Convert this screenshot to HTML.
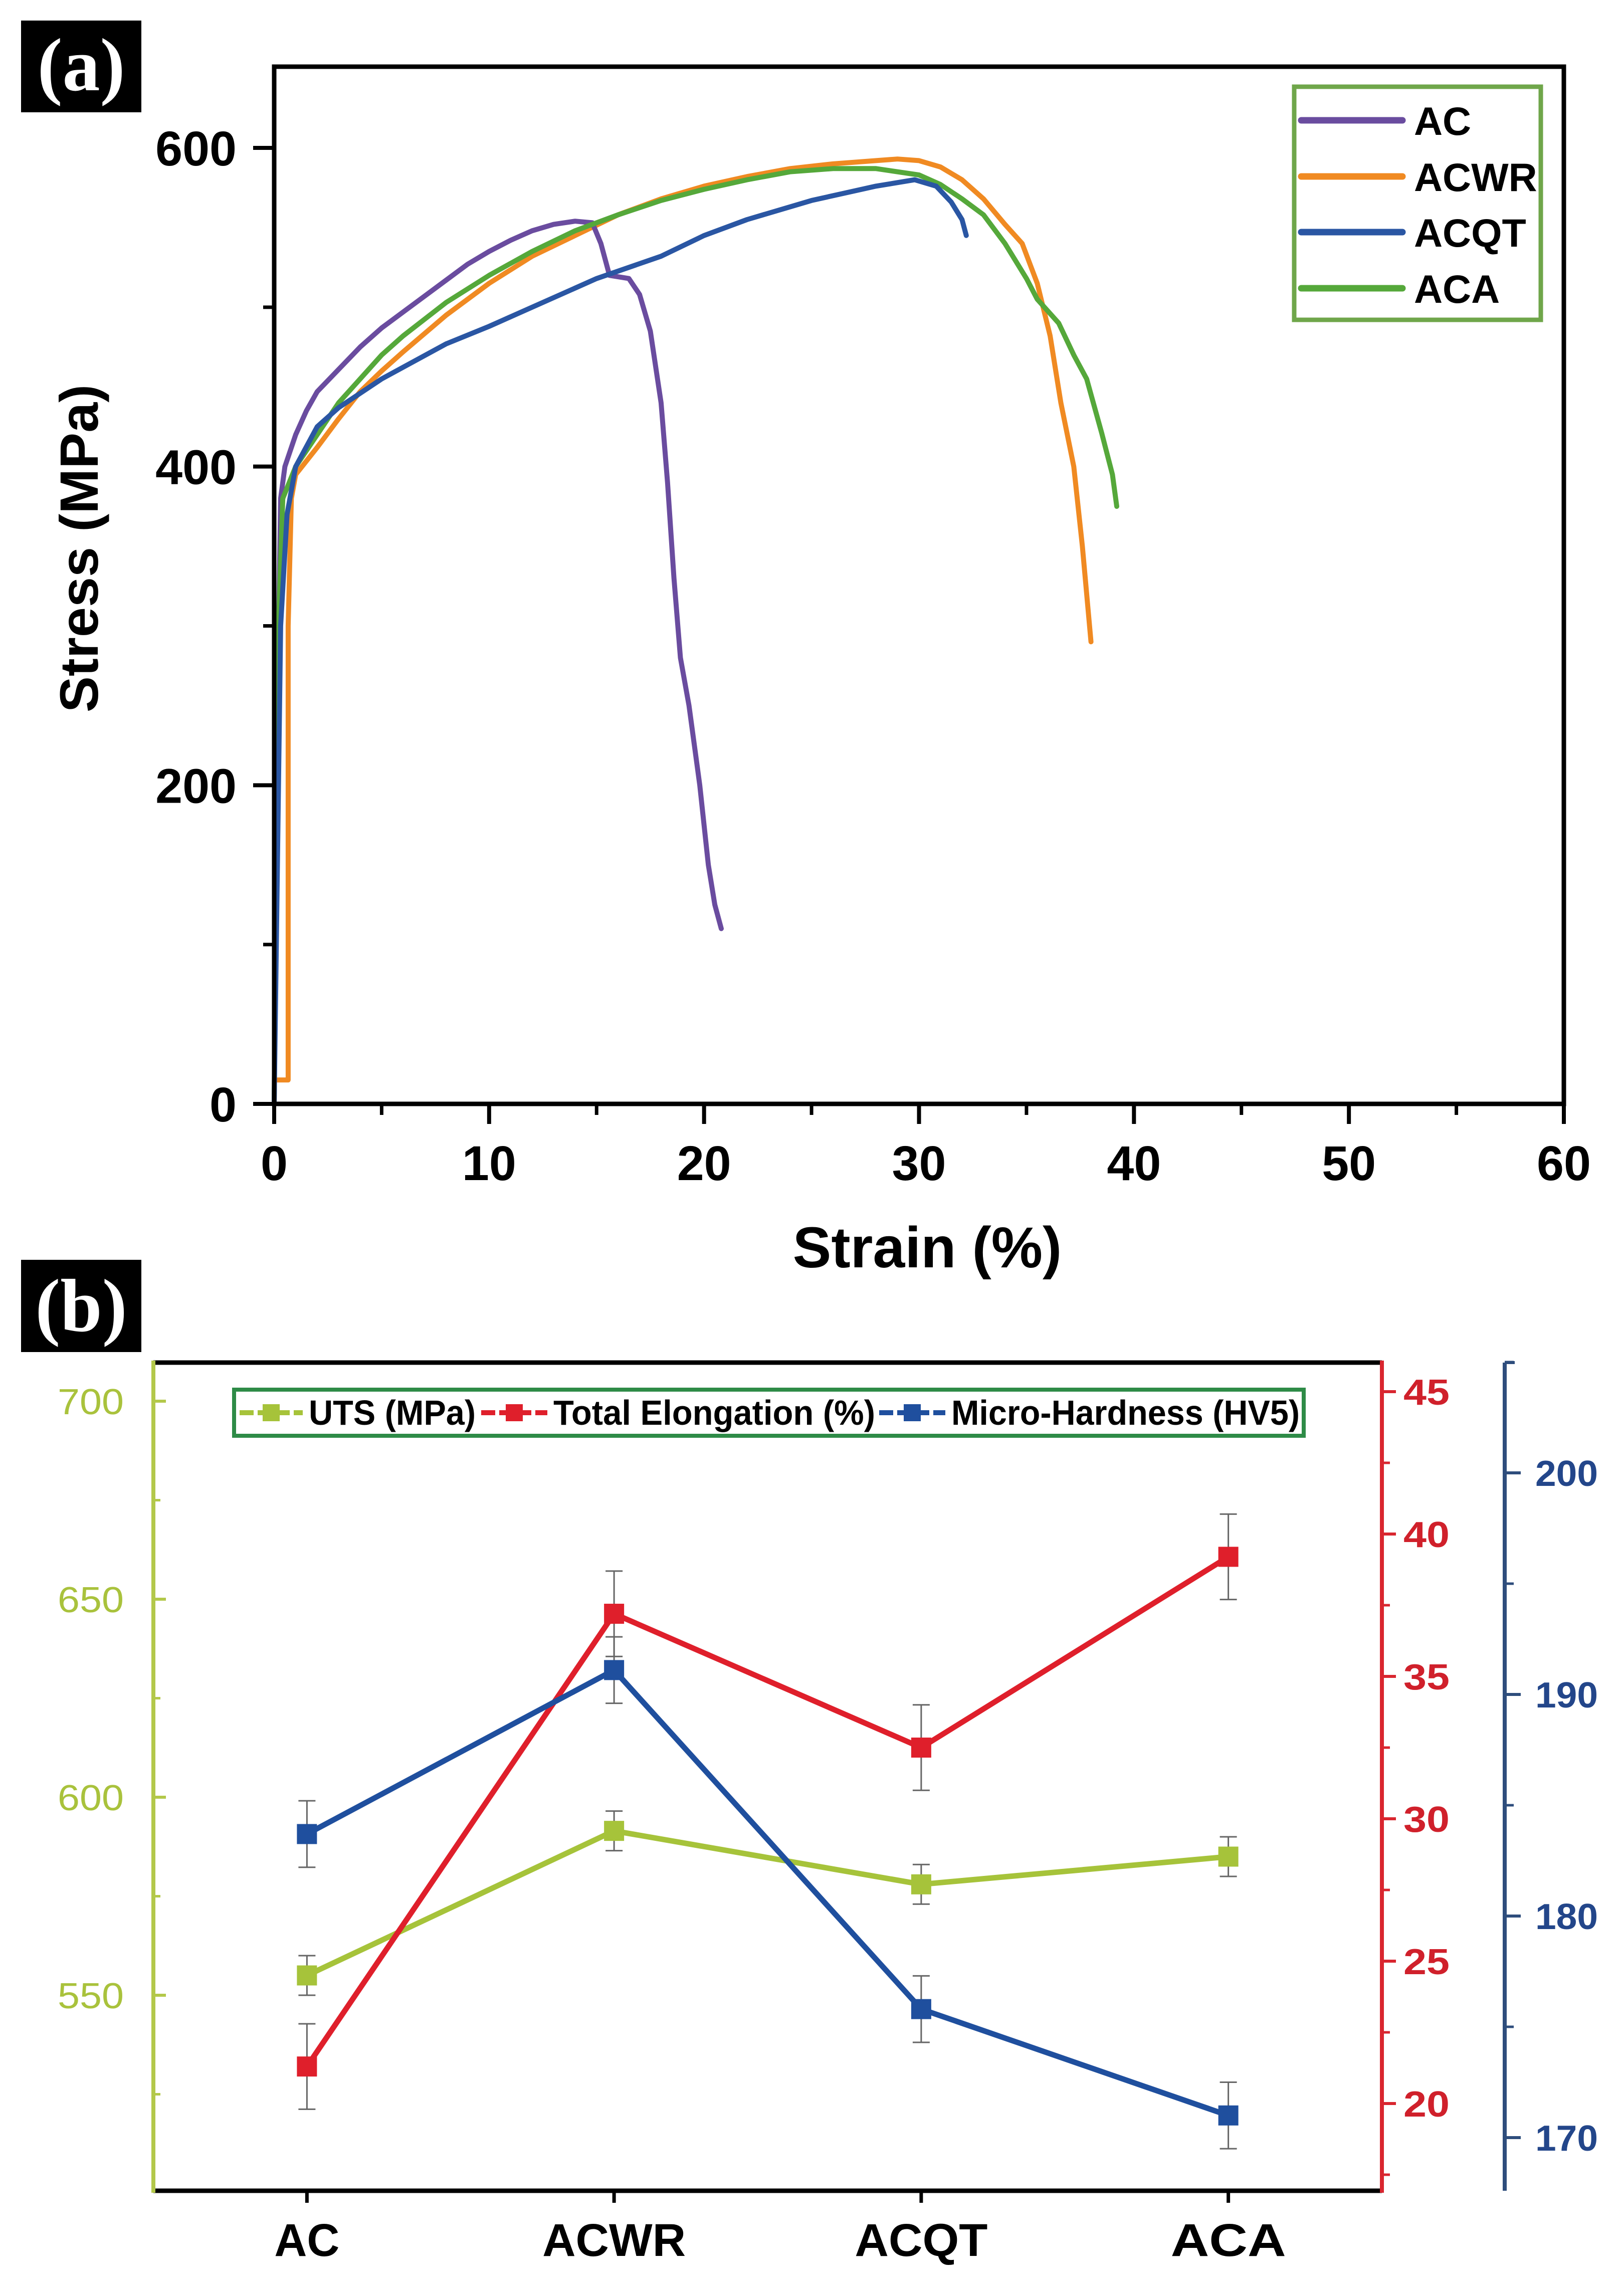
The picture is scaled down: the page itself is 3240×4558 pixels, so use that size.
<!DOCTYPE html>
<html><head><meta charset="utf-8"><style>
html,body{margin:0;padding:0;background:#fff;}
svg{display:block;}
text{font-family:"Liberation Sans",Arial,sans-serif;}
</style></head><body>
<svg id="fig" width="3240" height="4558" viewBox="0 0 3240 4558" xmlns="http://www.w3.org/2000/svg">
<rect width="3240" height="4558" fill="#fff"/>
<g id="pa"></g>
<g id="pb"></g>
</svg>
<script>
// ---------- Panel (a) data ----------
const seriesNames = ["AC","ACWR","ACQT","ACA"];
const acStrain   = [0,0.15,0.3,0.5,1,1.5,2,3,4,5,6,7,8,9,10,11,12,13,14,14.8,15.2,15.6,16.5,17,17.5,18,18.3,18.6,18.9,19.3,19.8,20.2,20.5,20.8];
const acStress   = [0,250,380,400,420,435,447,461,475,487,497,507,517,527,535,542,548,552,554,553,540,520,518,508,485,440,390,330,280,250,200,150,125,110];
const acwrStrain = [0.1,0.65,0.65,0.8,1,2,3,4,5,6,8,10,12,14,16,18,20,22,24,26,28,29,30,31,32,33,34,34.8,35.5,36.1,36.6,37.2,37.6,38];
const acwrStress = [15,15,300,380,395,412,430,447,460,472,495,515,532,545,558,568,576,582,587,590,592,593,592,588,580,568,552,540,515,482,440,400,350,290];
const acqtStrain = [0,0.3,0.6,1,2,3,5,8,10,12,15,18,20,22,25,28,29.8,30.8,31.5,32,32.2];
const acqtStress = [0,300,370,400,425,437,455,477,488,500,518,532,545,555,567,576,580,576,566,555,545];
const acaStrain  = [0,0.2,0.4,1,2,3,4,5,6,8,10,12,14,16,18,20,22,24,26,28,30,31,32,33,34,35,35.5,36.5,37.2,37.8,38.5,39,39.2];
const acaStress  = [0,300,380,400,420,440,455,470,482,503,520,535,548,558,567,574,580,585,587,587,583,577,568,558,540,518,505,490,470,455,421,395,375];
const xTicksA = [0,10,20,30,40,50,60];
const yTicksA = [0,200,400,600];

// ---------- Panel (b) data ----------
const categories = ["AC","ACWR","ACQT","ACA"];
const utsValues  = [555,591.5,578,585];
const utsErr     = [5,5,5,5];
const elongValues= [21.3,37.2,32.5,39.2];
const elongErr   = [1.5,1.5,1.5,1.5];
const hvValues   = [183.7,191.1,175.8,171.0];
const hvErr      = [1.5,1.5,1.5,1.5];
const utsTicks   = [550,600,650,700];
const elongTicks = [20,25,30,35,40,45];
const hvTicks    = [170,180,190,200];

const NS="http://www.w3.org/2000/svg";
function mk(parent,tag,attrs,txt){const e=document.createElementNS(NS,tag);for(const k in attrs)e.setAttribute(k,attrs[k]);if(txt!==undefined)e.textContent=txt;parent.appendChild(e);return e;}

// ================= Panel (a) =================
const pa=document.getElementById('pa');
const AX0=547,AX1=3120,AY0=2202,AY1=133;
const sxA=v=>AX0+(v/60)*(AX1-AX0);
const syA=v=>AY0-v*(AY0-295)/600;
let lb=mk(pa,'rect',{x:42,y:41,width:240,height:183,fill:'#000'});

let lt=mk(pa,'text',{x:162,y:180,'text-anchor':'middle',fill:'#fff','font-size':150,'font-weight':'bold',style:'font-family:"Liberation Serif",serif'},'(a)');

const colorsA=["#6a4c9f","#f08a22","#2a56a3","#55a83a"];
const xsA=[acStrain,acwrStrain,acqtStrain,acaStrain], ysA=[acStress,acwrStress,acqtStress,acaStress];
[1,0,3,2].forEach(s=>{
  const pts=xsA[s].map((x,i)=>sxA(x).toFixed(1)+','+syA(ysA[s][i]).toFixed(1)).join(' ');
  const p=mk(pa,'polyline',{points:pts,fill:'none',stroke:colorsA[s],'stroke-width':10,'stroke-linejoin':'round','stroke-linecap':'round'});
  
  
});
let fr=mk(pa,'rect',{x:AX0,y:AY1,width:AX1-AX0,height:AY0-AY1,fill:'none',stroke:'#000','stroke-width':9});

xTicksA.forEach(v=>{
  const t=mk(pa,'line',{x1:sxA(v),x2:sxA(v),y1:AY0,y2:AY0+40,stroke:'#000','stroke-width':8});
  
  const l=mk(pa,'text',{x:sxA(v),y:2354,'text-anchor':'middle','font-size':97,'font-weight':'bold'},String(v));
  
  if(v<60){const m=mk(pa,'line',{x1:sxA(v+5),x2:sxA(v+5),y1:AY0,y2:AY0+22,stroke:'#000','stroke-width':7});
    }
});
yTicksA.forEach(v=>{
  const t=mk(pa,'line',{x1:AX0-42,x2:AX0,y1:syA(v),y2:syA(v),stroke:'#000','stroke-width':8});
  
  const l=mk(pa,'text',{x:472,y:syA(v)+35,'text-anchor':'end','font-size':97,'font-weight':'bold'},String(v));
  
  const m=mk(pa,'line',{x1:AX0-22,x2:AX0,y1:syA(v+100),y2:syA(v+100),stroke:'#000','stroke-width':7});
  
});
let yt=mk(pa,'text',{x:0,y:0,transform:'translate(195,1094) rotate(-90)','text-anchor':'middle','font-size':108,'font-weight':'bold'},'Stress (MPa)');

let xt=mk(pa,'text',{x:1850,y:2528,'text-anchor':'middle','font-size':115,'font-weight':'bold'},'Strain (%)');

let lgA=mk(pa,'g',{});

mk(lgA,'rect',{x:2582,y:173,width:492,height:465,fill:'#fff',stroke:'#6fa64a','stroke-width':9});
const legY=[240,352,463,575];
seriesNames.forEach((n,i)=>{
  const g=mk(lgA,'g',{});
  
  mk(g,'line',{x1:2596,x2:2798,y1:legY[i],y2:legY[i],stroke:colorsA[i],'stroke-width':13,'stroke-linecap':'round'});
  mk(g,'text',{x:2821,y:legY[i]+29,'font-size':79,'font-weight':'bold'},n);
});

// ================= Panel (b) =================
const pb=document.getElementById('pb');
const BX0=306,BX1=2757,BY0=4370,BY1=2718,BLUEX=3002;
const sxB=i=>BX0+(i+0.5)*(BX1-BX0)/4;
const syU=v=>2795+(700-v)*7.9;
const syE=v=>2776+(45-v)*56.8;
const syH=v=>2938+(200-v)*44.2;
const cG="#a6c33a",cR="#df1f2b",cB="#1f4f9e";
let lb2=mk(pb,'rect',{x:42,y:2513,width:240,height:184,fill:'#000'});

let lt2=mk(pb,'text',{x:162,y:2655,'text-anchor':'middle',fill:'#fff','font-size':150,'font-weight':'bold',style:'font-family:"Liberation Serif",serif'},'(b)');

let tl=mk(pb,'line',{x1:BX0,x2:BX1,y1:BY1,y2:BY1,stroke:'#000','stroke-width':9});

let bl=mk(pb,'line',{x1:BX0,x2:BX1,y1:BY0,y2:BY0,stroke:'#000','stroke-width':9});

let la=mk(pb,'line',{x1:BX0,x2:BX0,y1:BY1-4,y2:BY0+4,stroke:'#b3c84a','stroke-width':8});

let ra=mk(pb,'line',{x1:BX1,x2:BX1,y1:BY1-4,y2:BY0+4,stroke:'#d9262f','stroke-width':8});

let ba=mk(pb,'line',{x1:BLUEX,x2:BLUEX,y1:BY1,y2:BY0,stroke:'#2e4d7c','stroke-width':8});

utsTicks.forEach(v=>{
  const t=mk(pb,'line',{x1:BX0,x2:BX0+25,y1:syU(v),y2:syU(v),stroke:'#b3c84a','stroke-width':6});
  
  const m=mk(pb,'line',{x1:BX0,x2:BX0+14,y1:syU(v-25),y2:syU(v-25),stroke:'#b3c84a','stroke-width':5});
  
  const l=mk(pb,'text',{x:247,y:syU(v)+26,'text-anchor':'end','font-size':72,fill:'#a9c23c',textLength:132,lengthAdjust:'spacingAndGlyphs'},String(v));
  
});
elongTicks.forEach(v=>{
  const t=mk(pb,'line',{x1:BX1,x2:BX1+28,y1:syE(v),y2:syE(v),stroke:'#d9262f','stroke-width':6});
  
  const m=mk(pb,'line',{x1:BX1,x2:BX1+16,y1:syE(v-2.5),y2:syE(v-2.5),stroke:'#d9262f','stroke-width':5});
  
  const l=mk(pb,'text',{x:2800,y:syE(v)+26,'font-size':72,'font-weight':'bold',fill:'#d0202b',textLength:92,lengthAdjust:'spacingAndGlyphs'},String(v));
  
});
let rm=mk(pb,'line',{x1:BX1,x2:BX1+16,y1:syE(42.5),y2:syE(42.5),stroke:'#d9262f','stroke-width':5});

hvTicks.forEach(v=>{
  const t=mk(pb,'line',{x1:BLUEX,x2:BLUEX+32,y1:syH(v),y2:syH(v),stroke:'#2e4d7c','stroke-width':6});
  
  const m=mk(pb,'line',{x1:BLUEX,x2:BLUEX+18,y1:syH(v+5),y2:syH(v+5),stroke:'#2e4d7c','stroke-width':5});
  
  const l=mk(pb,'text',{x:3063,y:syH(v)+26,'font-size':72,'font-weight':'bold',fill:'#23468a',textLength:125,lengthAdjust:'spacingAndGlyphs'},String(v));
  
});
let topT=mk(pb,'line',{x1:BLUEX,x2:BLUEX+20,y1:BY1,y2:BY1,stroke:'#2e4d7c','stroke-width':6});

categories.forEach((c,i)=>{
  const t=mk(pb,'line',{x1:sxB(i),x2:sxB(i),y1:BY0,y2:BY0+24,stroke:'#000','stroke-width':7});
  
  const l=mk(pb,'text',{x:sxB(i),y:4500,'text-anchor':'middle','font-size':92,'font-weight':'bold',textLength:[130,286,265,230][i],lengthAdjust:'spacingAndGlyphs'},c);
  
});
function drawSeries(name,vals,errs,sy,color){
  const g=mk(pb,'g',{});
  
  const pts=vals.map((v,i)=>sxB(i)+','+sy(v)).join(' ');
  const pl=mk(g,'polyline',{points:pts,fill:'none',stroke:color,'stroke-width':11,'stroke-linejoin':'round'});
  
  vals.forEach((v,i)=>{
    const x=sxB(i),yt=sy(v+errs[i]),yb=sy(v-errs[i]);
    const e=mk(g,'path',{d:`M${x},${yt}V${yb}M${x-17},${yt}h34M${x-17},${yb}h34`,stroke:'#666','stroke-width':3,fill:'none'});
    
    const r=mk(g,'rect',{x:x-20,y:sy(v)-20,width:40,height:40,fill:color});
    
  });
}
drawSeries('uts',utsValues,utsErr,syU,cG);
drawSeries('elongation',elongValues,elongErr,syE,cR);
drawSeries('hardness',hvValues,hvErr,syH,cB);
let lgB=mk(pb,'g',{});

mk(lgB,'rect',{x:467,y:2772,width:2134,height:92,fill:'#fff',stroke:'#2e8b47','stroke-width':8});
const legB=[["UTS (MPa)",cG,478,616,333],["Total Elongation (%)",cR,960,1104,642],["Micro-Hardness (HV5)",cB,1754,1898,695]];
legB.forEach(([t,c,lx,tx,tw])=>{
  const g=mk(lgB,'g',{});
  
  const ex=tx-lx-12;
  mk(g,'line',{x1:lx,x2:lx+ex,y1:2818,y2:2818,stroke:c,'stroke-width':10,'stroke-dasharray':'28,8'});
  mk(g,'rect',{x:lx+ex/2-17,y:2801,width:34,height:34,fill:c});
  mk(g,'text',{x:tx,y:2842,'font-size':70,'font-weight':'bold',textLength:tw,lengthAdjust:'spacingAndGlyphs'},t);
});
</script>
</body></html>
